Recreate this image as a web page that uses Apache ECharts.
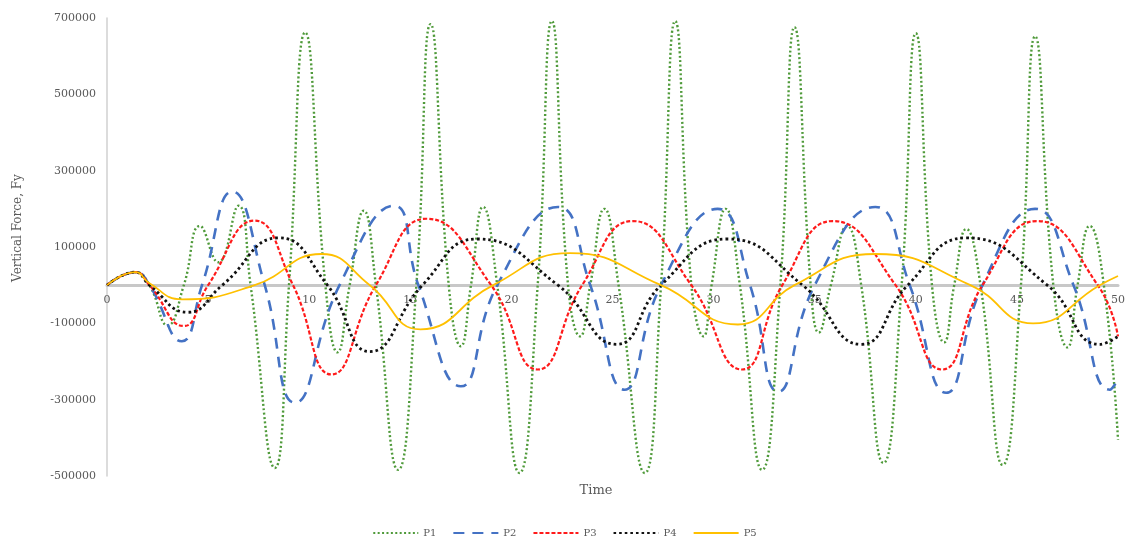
<!DOCTYPE html>
<html>
<head>
<meta charset="utf-8">
<script src="https://cdn.jsdelivr.net/npm/echarts@6/dist/echarts.min.js"></script>
<style>
  html, body { margin: 0; padding: 0; background: #ffffff; }
  #chart { width: 1129px; height: 545px; }
</style>
</head>
<body>
<div id="chart"></div>
<script>
// Vertical force Fy over time for the five positions P1..P5
const seriesNames = ['P1', 'P2', 'P3', 'P4', 'P5'];

const timeP1 = [0, 1.4, 2.1, 3.0, 3.8, 4.6, 5.5, 6.5, 7.1, 8.3, 9.0, 9.8, 10.8, 11.4, 12.0, 12.7, 13.3, 14.4, 15.3, 16.0,
  16.9, 17.5, 18.0, 18.6, 19.3, 20.4, 21.3, 22.0, 22.8, 23.4, 23.9, 24.6, 25.3, 26.6, 27.4, 28.1, 28.9, 29.5, 29.9, 30.6,
  31.3, 32.4, 33.3, 34.0, 34.8, 35.2, 35.8, 36.6, 37.3, 38.4, 39.3, 40.0, 40.8, 41.4, 41.9, 42.5, 43.2, 44.3, 45.2, 45.9,
  46.8, 47.5, 48.0, 48.6, 49.3, 50.0];
const forceP1 = [0, 34000, 0, -105000, 0, 155000, 60000, 208000, 0, -479000, 0, 662000, 0, -176000, 0, 195000, 0, -484000, 0, 684000,
  0, -160000, 0, 205000, 0, -492000, 0, 692000, 0, -134000, 0, 200000, 0, -492000, 0, 692000, 0, -134000, 0, 200000,
  0, -484000, 0, 676000, 0, -124000, 0, 155000, 0, -466000, 0, 660000, 0, -150000, 0, 147000, 0, -471000, 0, 652000,
  0, -163000, 0, 155000, 0, -405000];

const timeP2 = [0, 1.4, 2.1, 3.7, 4.7, 6.2, 7.8, 9.3, 11.5, 14.2, 15.4, 17.5, 19.3, 22.3, 23.9, 25.6, 27.4, 30.2, 31.8, 33.2,
  35.0, 38.0, 39.7, 41.5, 43.3, 45.9, 47.8, 49.6, 50.0];
const forceP2 = [0, 34000, 0, -147000, 0, 245000, 0, -308000, 0, 208000, 0, -265000, 0, 205000, 0, -274000, 0, 200000, 0, -279000,
  0, 205000, 0, -282000, 0, 200000, 0, -274000, -247000];

const timeP3 = [0, 1.4, 2.1, 3.8, 5.0, 7.3, 9.2, 11.1, 13.3, 15.8, 19.0, 21.3, 23.5, 26.0, 28.9, 31.4, 33.4, 35.9, 39.0, 41.3,
  43.3, 46.0, 49.0, 50.0];
const forceP3 = [0, 34000, 0, -107000, 0, 169000, 0, -234000, 0, 174000, 0, -221000, 0, 168000, 0, -221000, 0, 168000, 0, -221000,
  0, 168000, 0, -134000];

const timeP4 = [0, 1.4, 2.1, 4.0, 5.7, 8.5, 10.9, 13.0, 15.6, 18.3, 22.3, 25.2, 27.4, 30.7, 34.4, 37.3, 39.6, 42.5, 46.5, 49.1, 50.0];
const forceP4 = [0, 34000, 0, -71000, 0, 124000, 0, -174000, 0, 121000, 0, -155000, 0, 121000, 0, -155000, 0, 124000, 0, -155000, -134000];

const timeP5 = [0, 1.4, 2.1, 3.7, 7.3, 10.6, 13.0, 15.5, 19.1, 22.9, 27.4, 31.2, 34.0, 38.0, 42.7, 45.8, 49.1, 50.0];
const forceP5 = [0, 34000, 5000, -37000, 0, 81600, 0, -116000, 0, 84000, 0, -103000, 0, 81600, 0, -100000, 0, 24000];

const yTicks = { min: -500000, max: 700000, step: 200000 };
const xTicks = { min: 0, max: 50, step: 5 };

const times = [timeP1, timeP2, timeP3, timeP4, timeP5];
const forces = [forceP1, forceP2, forceP3, forceP4, forceP5];

const lineLooks = [
  { color: '#4f9a3a', width: 2.4, type: [2, 2.4] },
  { color: '#4472c4', width: 2.6, type: [11, 8] },
  { color: '#ff1a1a', width: 2.2, type: [4, 2] },
  { color: '#111111', width: 2.8, type: [2.6, 3] },
  { color: '#ffc000', width: 1.8, type: 'solid' }
];

const serif = '"DejaVu Serif", "Liberation Serif", serif';

// plot box
const plot = { left: 107, right: 11, top: 18, bottom: 69, height: 545 - 18 - 69 };
// pull the x axis up so it sits on the zero line
const zeroShift = -plot.height * (yTicks.max / (yTicks.max - yTicks.min));
const xAxisOffset = -(plot.height + zeroShift);

const chart = echarts.init(document.getElementById('chart'), null, { renderer: 'canvas' });

const series = seriesNames.map((name, i) => ({
  name: name,
  type: 'line',
  data: times[i].map((t, k) => [t, forces[i][k]]),
  smooth: 0.5,
  showSymbol: false,
  symbol: 'none',
  animation: false,
  lineStyle: {
    color: lineLooks[i].color,
    width: lineLooks[i].width,
    type: lineLooks[i].type
  },
  itemStyle: { color: lineLooks[i].color }
}));

chart.setOption({
  backgroundColor: '#ffffff',
  animation: false,
  grid: { left: plot.left, right: plot.right, top: plot.top, bottom: plot.bottom, containLabel: false },
  xAxis: {
    type: 'value',
    min: xTicks.min,
    max: xTicks.max,
    interval: xTicks.step,
    position: 'bottom',
    offset: xAxisOffset,
    axisLine: { show: true, onZero: false, lineStyle: { color: '#c8c8c8', width: 3 } },
    axisTick: { show: false },
    splitLine: { show: false },
    axisLabel: { color: '#595959', fontSize: 11, fontFamily: serif, margin: 9 }
  },
  yAxis: {
    type: 'value',
    min: yTicks.min,
    max: yTicks.max,
    interval: yTicks.step,
    axisLine: { show: true, onZero: false, lineStyle: { color: '#d0d0d0', width: 1.5 } },
    axisTick: { show: false },
    splitLine: { show: false },
    axisLabel: {
      color: '#595959', fontSize: 11, fontFamily: serif, margin: 11,
      formatter: (v) => String(v)
    }
  },
  legend: {
    data: seriesNames,
    bottom: 2,
    left: 'center',
    itemWidth: 45,
    itemHeight: 10,
    itemGap: 16,
    itemStyle: { opacity: 0 },
    textStyle: { color: '#595959', fontSize: 10, fontFamily: serif }
  },
  graphic: [
    {
      type: 'text',
      x: 18,
      y: 228,
      rotation: Math.PI / 2,
      style: {
        text: 'Vertical Force, Fy', fill: '#595959', font: '12px ' + serif,
        align: 'center', verticalAlign: 'middle'
      }
    },
    {
      type: 'text',
      x: 596,
      y: 491,
      style: {
        text: 'Time', fill: '#595959', font: '13px ' + serif,
        align: 'center', verticalAlign: 'middle'
      }
    }
  ],
  series: series
});
</script>
</body>
</html>
